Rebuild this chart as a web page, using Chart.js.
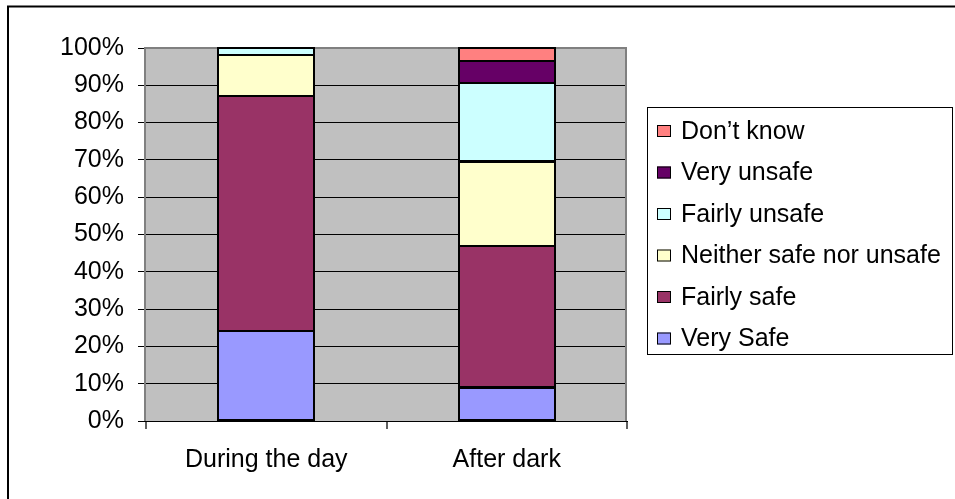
<!DOCTYPE html>
<html>
<head>
<meta charset="utf-8">
<script src="https://cdn.jsdelivr.net/npm/chart.js@4"></script>
<style>
  html, body { margin: 0; padding: 0; background: #fff; }
  #wrap { width: 955px; height: 499px; position: relative; }
</style>
</head>
<body>
<div id="wrap"><canvas id="c"></canvas></div>
<script>
// ---- Data ----
const categories = ["During the day", "After dark"];
const seriesNames = ["Very Safe", "Fairly safe", "Neither safe nor unsafe", "Fairly unsafe", "Very unsafe", "Don\u2019t know"];
const verySafe = [24, 9];
const fairlySafe = [63, 38];
const neitherSafe = [11, 22.5];
const fairlyUnsafe = [2, 21];
const veryUnsafe = [0, 6];
const dontKnow = [0, 3.5];
const yTicks = [0, 10, 20, 30, 40, 50, 60, 70, 80, 90, 100];

const seriesValues = [verySafe, fairlySafe, neitherSafe, fairlyUnsafe, veryUnsafe, dontKnow];
const seriesColors = ["#9999FF", "#993366", "#FFFFCC", "#CCFFFF", "#660066", "#FF8080"];

const FONT = "'Liberation Sans', Arial, sans-serif";
const FS = 25;

const datasets = seriesNames.map((name, i) => ({
  label: name,
  data: seriesValues[i],
  backgroundColor: seriesColors[i],
  borderColor: "#000",
  borderWidth: 0,
  inflateAmount: 0,
  barPercentage: 0.4,
  categoryPercentage: 1.0
}));

const decor = {
  id: "decor",
  beforeDraw(chart) {
    const ctx = chart.ctx, a = chart.chartArea;
    ctx.save();
    ctx.fillStyle = "#fff";
    ctx.fillRect(0, 0, chart.width, chart.height);
    ctx.fillStyle = "#C0C0C0";
    ctx.fillRect(a.left, a.top, a.right - a.left, a.bottom - a.top);
    // outer chart border (only top/left visible)
    ctx.strokeStyle = "#000";
    ctx.lineWidth = 2;
    ctx.strokeRect(8, 6.5, 2000, 2000);
    ctx.restore();
  },
  beforeDatasetsDraw(chart) {
    const ctx = chart.ctx, a = chart.chartArea;
    ctx.save();
    ctx.strokeStyle = "#808080";
    ctx.lineWidth = 2;
    ctx.beginPath();
    ctx.moveTo(a.left - 1, a.bottom);
    ctx.lineTo(a.left - 1, a.top);
    ctx.lineTo(a.right - 1, a.top);
    ctx.lineTo(a.right - 1, a.bottom);
    ctx.stroke();
    ctx.restore();
  },
  afterDatasetsDraw(chart) {
    // Excel-style outlines centred on each bar segment's edges
    const ctx = chart.ctx;
    ctx.save();
    ctx.strokeStyle = "#000";
    ctx.lineWidth = 2;
    chart.data.datasets.forEach((ds, i) => {
      chart.getDatasetMeta(i).data.forEach(bar => {
        const p = bar.getProps(["x", "y", "base", "width"], true);
        const top = Math.min(p.y, p.base), h = Math.abs(p.base - p.y);
        if (h < 0.5) return;
        ctx.strokeRect(Math.round(p.x - p.width / 2), Math.round(top), Math.round(p.width), Math.round(h));
      });
    });
    ctx.restore();
  },
  afterDraw(chart) {
    const ctx = chart.ctx;
    ctx.save();
    ctx.strokeStyle = "#000";
    ctx.lineWidth = 1;
    ctx.strokeRect(647.5, 107.5, 305, 247);
    ctx.font = FS + "px " + FONT;
    ctx.textBaseline = "middle";
    ctx.textAlign = "left";
    const n = chart.data.datasets.length;
    for (let k = 0; k < n; k++) {
      const ds = chart.data.datasets[n - 1 - k];
      const cy = 131 + k * 41.5;
      ctx.fillStyle = ds.backgroundColor;
      ctx.fillRect(657, cy - 6, 14, 12);
      ctx.strokeRect(657.5, cy - 5.5, 13, 11);
      ctx.fillStyle = "#000";
      ctx.fillText(ds.label, 681, cy + 1);
    }
    ctx.restore();
  }
};

new Chart(document.getElementById("c"), {
  type: "bar",
  data: { labels: categories, datasets },
  options: {
    responsive: true,
    maintainAspectRatio: false,
    animation: false,
    layout: { padding: { top: 48, right: 328, left: 0, bottom: 0 } },
    plugins: { legend: { display: false }, tooltip: { enabled: false } },
    scales: {
      x: {
        stacked: true,
        afterFit(s) { s.height = 78; },
        grid: { drawOnChartArea: false, drawTicks: true, tickLength: 8, color: "#606060", lineWidth: 2, offset: true },
        border: { display: true, color: "#000", width: 1 },
        ticks: { color: "#000", font: { family: FONT, size: FS }, padding: 16, maxRotation: 0 }
      },
      y: {
        stacked: true,
        min: 0, max: 100,
        afterFit(s) { s.width = 146; },
        afterBuildTicks(s) { s.ticks = yTicks.map(v => ({ value: v })); },
        grid: { color: "#000", lineWidth: 1, tickLength: 8, drawTicks: true },
        border: { display: false },
        ticks: { color: "#000", font: { family: FONT, size: FS }, padding: 14, callback: v => v + "%" }
      }
    }
  },
  plugins: [decor]
});
</script>
</body>
</html>
